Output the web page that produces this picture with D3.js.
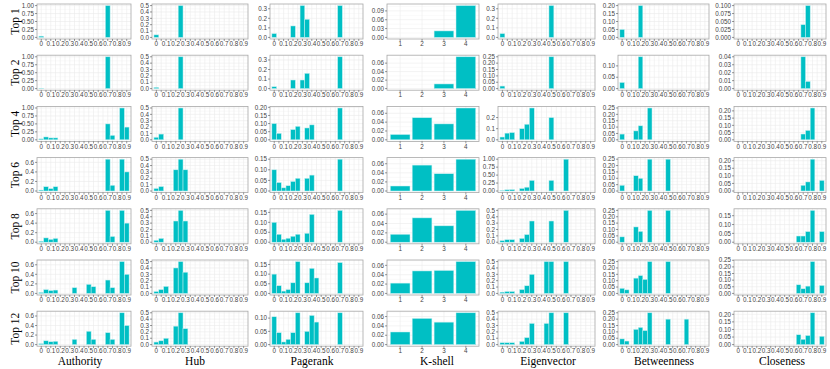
<!DOCTYPE html>
<html>
<head>
<meta charset="utf-8">
<script src="https://cdn.jsdelivr.net/npm/d3@7"></script>
<style>
  body { margin: 0; background: #fff; }
  svg { display: block; }
</style>
</head>
<body>
<svg></svg>
<script>
// rows (top-k) and columns (measures)
const rowNames = ["Top 1", "Top 2", "Top 4", "Top 6", "Top 8", "Top 10", "Top 12"];
const measures = ["Authority", "Hub", "Pagerank", "K-shell", "Eigenvector", "Betweenness", "Closeness"];

// x bins for the continuous measures, labels every 0.1
const bins = d3.range(19).map(i => +(i * 0.05).toFixed(2));
const binLabels = ["0", "0.1", "0.2", "0.3", "0.4", "0.5", "0.6", "0.7", "0.8", "0.9"];
const kshellLevels = ["1", "2", "3", "4"];

// [bin, share] for each row
const authority = [
  [[0, 0.04], [0.7, 1.0]],
  [[0, 0.01], [0.7, 1.0]],
  [[0, 0.03], [0.05, 0.09], [0.1, 0.06], [0.15, 0.06], [0.7, 0.5], [0.75, 0.14], [0.85, 1.0], [0.9, 0.4]],
  [[0, 0.02], [0.05, 0.09], [0.1, 0.05], [0.15, 0.09], [0.7, 0.667], [0.75, 0.12], [0.85, 0.667], [0.9, 0.4]],
  [[0, 0.02], [0.05, 0.09], [0.1, 0.06], [0.15, 0.08], [0.7, 0.667], [0.75, 0.12], [0.85, 0.667], [0.9, 0.4]],
  [[0, 0.02], [0.05, 0.08], [0.1, 0.06], [0.15, 0.07], [0.35, 0.12], [0.5, 0.19], [0.55, 0.14], [0.7, 0.28], [0.75, 0.12], [0.85, 0.667], [0.9, 0.4]],
  [[0, 0.02], [0.05, 0.08], [0.1, 0.06], [0.15, 0.07], [0.35, 0.11], [0.5, 0.28], [0.55, 0.11], [0.7, 0.25], [0.75, 0.11], [0.85, 0.667], [0.9, 0.4]]
];
const hub = [
  [[0, 0.04], [0.25, 0.5]],
  [[0, 0.02], [0.25, 0.5]],
  [[0, 0.04], [0.05, 0.09], [0.25, 0.5]],
  [[0, 0.04], [0.05, 0.07], [0.2, 0.333], [0.25, 0.5], [0.3, 0.333]],
  [[0, 0.03], [0.05, 0.06], [0.2, 0.333], [0.25, 0.5], [0.3, 0.333]],
  [[0, 0.03], [0.05, 0.06], [0.1, 0.11], [0.2, 0.4], [0.25, 0.5], [0.3, 0.333]],
  [[0, 0.04], [0.05, 0.06], [0.1, 0.1], [0.2, 0.29], [0.25, 0.5], [0.3, 0.25]]
];
const pagerank = [
  [[0, 0.04], [0.2, 0.12], [0.3, 0.333], [0.35, 0.19], [0.7, 0.333]],
  [[0, 0.02], [0.2, 0.09], [0.3, 0.09], [0.35, 0.16], [0.7, 0.333]],
  [[0, 0.1], [0.05, 0.04], [0.2, 0.063], [0.25, 0.083], [0.35, 0.073], [0.4, 0.092], [0.7, 0.196]],
  [[0, 0.1], [0.05, 0.04], [0.1, 0.015], [0.15, 0.025], [0.2, 0.045], [0.25, 0.06], [0.35, 0.06], [0.4, 0.075], [0.7, 0.15]],
  [[0, 0.1], [0.05, 0.04], [0.1, 0.015], [0.15, 0.02], [0.2, 0.03], [0.25, 0.04], [0.35, 0.045], [0.4, 0.14], [0.7, 0.16]],
  [[0, 0.1], [0.05, 0.04], [0.1, 0.012], [0.15, 0.02], [0.2, 0.055], [0.25, 0.165], [0.35, 0.055], [0.4, 0.13], [0.45, 0.08], [0.7, 0.16]],
  [[0, 0.105], [0.05, 0.045], [0.1, 0.01], [0.15, 0.02], [0.2, 0.045], [0.25, 0.12], [0.35, 0.05], [0.4, 0.11], [0.45, 0.085], [0.7, 0.12]]
];
// one value per k-shell level
const kshell = [
  [0, 0, 0.022, 0.108],
  [0, 0, 0.011, 0.075],
  [0.012, 0.05, 0.036, 0.072],
  [0.011, 0.057, 0.038, 0.07],
  [0.017, 0.052, 0.035, 0.068],
  [0.022, 0.048, 0.049, 0.068],
  [0.027, 0.056, 0.048, 0.068]
];
const eigenvector = [
  [[0, 0.04], [0.5, 0.333]],
  [[0, 0.02], [0.5, 0.25]],
  [[0, 0.025], [0.05, 0.06], [0.1, 0.065], [0.2, 0.1], [0.25, 0.14], [0.3, 0.286], [0.5, 0.2]],
  [[0, 0.02], [0.05, 0.04], [0.1, 0.045], [0.2, 0.08], [0.25, 0.12], [0.3, 0.333], [0.5, 0.333], [0.65, 1.0]],
  [[0, 0.025], [0.05, 0.04], [0.1, 0.04], [0.2, 0.06], [0.25, 0.12], [0.3, 0.333], [0.5, 0.333], [0.65, 0.5]],
  [[0, 0.02], [0.05, 0.03], [0.1, 0.03], [0.2, 0.06], [0.25, 0.12], [0.3, 0.3], [0.45, 0.5], [0.5, 0.5], [0.65, 0.5]],
  [[0, 0.03], [0.05, 0.03], [0.1, 0.03], [0.2, 0.05], [0.25, 0.11], [0.3, 0.333], [0.45, 0.333], [0.5, 0.5], [0.65, 0.5]]
];
const betweenness = [
  [[0, 0.05], [0.2, 0.2]],
  [[0, 0.027], [0.2, 0.14]],
  [[0, 0.045], [0.15, 0.07], [0.2, 0.11], [0.3, 0.25]],
  [[0, 0.045], [0.15, 0.12], [0.2, 0.1], [0.3, 0.25], [0.5, 0.25]],
  [[0, 0.042], [0.15, 0.12], [0.2, 0.085], [0.3, 0.25], [0.5, 0.25]],
  [[0, 0.04], [0.05, 0.028], [0.15, 0.12], [0.2, 0.14], [0.25, 0.11], [0.3, 0.25], [0.5, 0.25]],
  [[0, 0.045], [0.05, 0.028], [0.15, 0.12], [0.2, 0.135], [0.25, 0.11], [0.3, 0.25], [0.5, 0.2], [0.7, 0.2]]
];
const closeness = [
  [[0.7, 0.04], [0.75, 0.1]],
  [[0.7, 0.04], [0.75, 0.009]],
  [[0.7, 0.04], [0.75, 0.065], [0.8, 0.22]],
  [[0.7, 0.038], [0.75, 0.06], [0.8, 0.21], [0.9, 0.07]],
  [[0.65, 0.035], [0.7, 0.035], [0.75, 0.06], [0.8, 0.18], [0.9, 0.06]],
  [[0.65, 0.065], [0.7, 0.035], [0.75, 0.055], [0.8, 0.24], [0.9, 0.06]],
  [[0.65, 0.065], [0.7, 0.035], [0.75, 0.06], [0.8, 0.21], [0.9, 0.055]]
];

// y tick labels, per measure and row
const q4 = ["0.00", "0.25", "0.50", "0.75", "1.00"];
const p6 = ["0.0", "0.2", "0.4", "0.6"];
const d5 = ["0.0", "0.1", "0.2", "0.3", "0.4", "0.5"];
const d3t = ["0.0", "0.1", "0.2", "0.3"];
const f20 = ["0.00", "0.05", "0.10", "0.15", "0.20"];
const f15 = ["0.00", "0.05", "0.10", "0.15"];
const f25 = ["0.00", "0.05", "0.10", "0.15", "0.20", "0.25"];
const k06 = ["0.00", "0.02", "0.04", "0.06"];
const authorityTicks = [q4, q4, q4, p6, p6, p6, p6];
const hubTicks = [d5, d5, d5, d5, d5, d5, d5];
const pagerankTicks = [d3t, d3t, f20, f15, f15, f15, ["0.00", "0.05", "0.10"]];
const kshellTicks = [["0.00", "0.03", "0.06", "0.09"], k06, k06, k06, k06, k06, k06];
const eigenvectorTicks = [d3t, f25, ["0.0", "0.1", "0.2"], q4, d5, d5, d5];
const betweennessTicks = [f20, ["0.00", "0.05", "0.10"], f25, f25, f25, f25, f25];
const closenessTicks = [["0.000", "0.025", "0.050", "0.075", "0.100"], ["0.00", "0.01", "0.02", "0.03", "0.04"], f20, f20, f15, f25, f20];

const series = [authority, hub, pagerank, kshell, eigenvector, betweenness, closeness];
const ticks = [authorityTicks, hubTicks, pagerankTicks, kshellTicks, eigenvectorTicks, betweennessTicks, closenessTicks];

// layout
const W = 830, H = 369;
const panelLeft = [37, 152, 270, 387, 498, 618, 734];
const panelRight = [131, 248, 363, 479, 595, 709, 826];
const titleX = [80, 195, 312, 437, 548, 664, 782];
const rowTop = d3.range(7).map(r => 4 + r * 51.2);
const panelH = 35;

const teal = "#00BFC4";
const gridCol = "#ebebeb";
const tickFont = "'Liberation Sans', Arial, sans-serif";
const serif = "'Liberation Serif', 'Times New Roman', serif";

const svg = d3.select("svg").attr("width", W).attr("height", H);

measures.forEach((m, c) => {
  rowNames.forEach((rn, r) => {
    const x0 = panelLeft[c], x1 = panelRight[c];
    const y0 = rowTop[r], y1 = y0 + panelH;
    const g = svg.append("g");
    const isK = m === "K-shell";

    const vals = isK ? series[c][r] : series[c][r].map(d => d[1]);
    const ymax = d3.max(vals);
    const y = d3.scaleLinear().domain([-0.05 * ymax, 1.05 * ymax]).range([y1, y0]);
    const x = isK
      ? d3.scaleLinear().domain([0.4, 4.6]).range([x0, x1])
      : d3.scaleLinear().domain([-0.045, 0.945]).range([x0, x1]);

    g.append("rect").attr("x", x0).attr("y", y0).attr("width", x1 - x0).attr("height", panelH)
      .attr("fill", "#fff");

    // grid
    const yt = ticks[c][r].map(Number);
    const step = yt[1] - yt[0];
    const minor = yt.map(v => v + step / 2).filter(v => y(v) > y0);
    g.selectAll(null).data(minor).enter().append("line")
      .attr("x1", x0).attr("x2", x1).attr("y1", d => y(d)).attr("y2", d => y(d))
      .attr("stroke", "#f3f3f3").attr("stroke-width", 0.4);
    g.selectAll(null).data(yt).enter().append("line")
      .attr("x1", x0).attr("x2", x1).attr("y1", d => y(d)).attr("y2", d => y(d))
      .attr("stroke", gridCol).attr("stroke-width", 0.6);
    const xg = isK ? [1, 2, 3, 4] : bins;
    g.selectAll(null).data(xg).enter().append("line")
      .attr("y1", y0).attr("y2", y1).attr("x1", d => x(d)).attr("x2", d => x(d))
      .attr("stroke", gridCol).attr("stroke-width", 0.6);

    // bars
    if (isK) {
      g.selectAll(null).data(vals).enter().append("rect")
        .attr("x", (d, i) => x(i + 1 - 0.45))
        .attr("width", x(1.45) - x(0.55))
        .attr("y", d => y(d))
        .attr("height", d => y(0) - y(d))
        .attr("fill", teal).attr("stroke", "#c8f0f1").attr("stroke-width", 0.5);
    } else {
      g.selectAll(null).data(series[c][r]).enter().append("rect")
        .attr("x", d => x(d[0] - 0.025))
        .attr("width", x(0.05) - x(0))
        .attr("y", d => y(d[1]))
        .attr("height", d => y(0) - y(d[1]))
        .attr("fill", teal).attr("stroke", "#c8f0f1").attr("stroke-width", 0.5);
    }

    // border
    g.append("rect").attr("x", x0).attr("y", y0).attr("width", x1 - x0).attr("height", panelH)
      .attr("fill", "none").attr("stroke", "#a8a8a8").attr("stroke-width", 0.8);

    // y axis
    g.selectAll(null).data(ticks[c][r]).enter().append("line")
      .attr("x1", x0 - 2).attr("x2", x0).attr("y1", d => y(+d)).attr("y2", d => y(+d))
      .attr("stroke", "#333").attr("stroke-width", 0.5);
    g.selectAll(null).data(ticks[c][r]).enter().append("text")
      .attr("x", x0 - 3).attr("y", d => y(+d)).attr("dy", "0.35em")
      .attr("text-anchor", "end").attr("font-family", tickFont).attr("font-size", 6.3)
      .attr("fill", "#444").text(d => d);

    // x axis
    const xt = isK ? [1, 2, 3, 4] : bins;
    g.selectAll(null).data(xt).enter().append("line")
      .attr("x1", d => x(d)).attr("x2", d => x(d)).attr("y1", y1).attr("y2", y1 + 2)
      .attr("stroke", "#333").attr("stroke-width", 0.5);
    const xl = isK ? kshellLevels.map((s, i) => [i + 1, s]) : binLabels.map((s, i) => [i / 10, s]);
    g.selectAll(null).data(xl).enter().append("text")
      .attr("x", d => x(d[0])).attr("y", y1 + 7.2)
      .attr("text-anchor", "middle").attr("font-family", tickFont).attr("font-size", 6.3)
      .attr("fill", "#444").text(d => d[1]);
  });

  svg.append("text").attr("x", titleX[c]).attr("y", 365)
    .attr("text-anchor", "middle").attr("font-family", serif).attr("font-size", 11.5)
    .attr("fill", "#000").text(m);
});

rowNames.forEach((rn, r) => {
  const cy = rowTop[r] + panelH / 2;
  svg.append("text").attr("transform", `translate(18.5,${cy}) rotate(-90)`)
    .attr("text-anchor", "middle").attr("font-family", serif).attr("font-size", 11.5)
    .attr("fill", "#000").text(rn);
});
</script>
</body>
</html>
